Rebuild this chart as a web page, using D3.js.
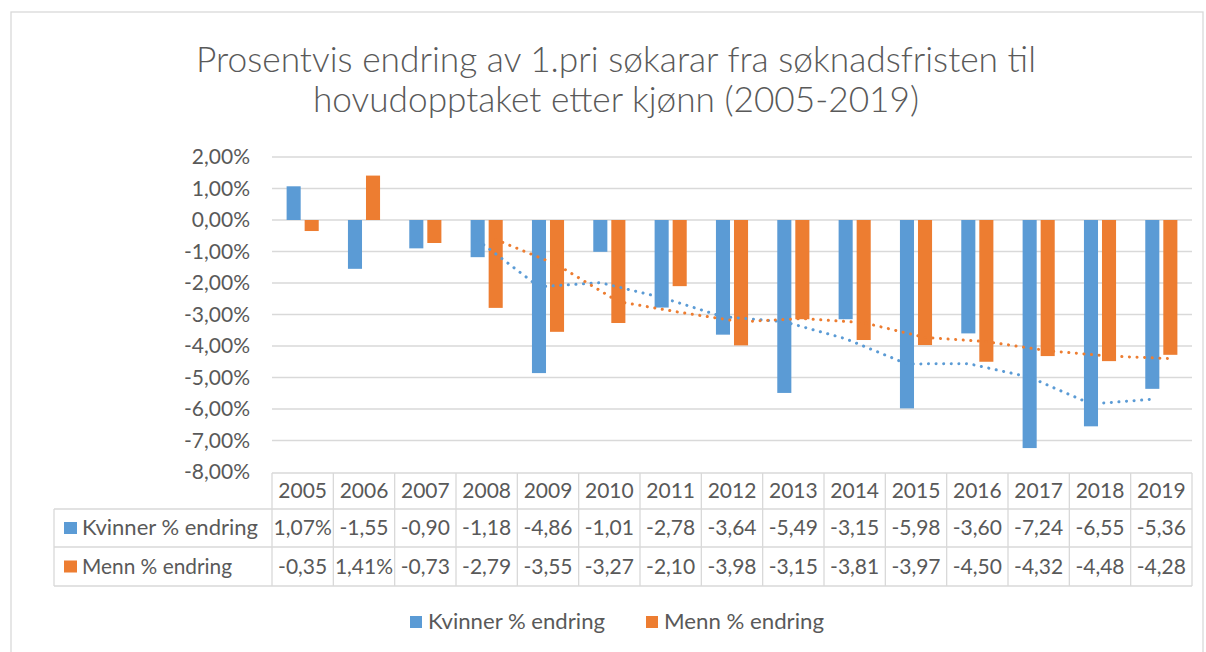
<html lang="no">
<head>
  <meta charset="utf-8">
  <title>Prosentvis endring</title>
  <script src="https://d3js.org/d3.v7.min.js"></script>
  <style>
    body { margin: 0; background: white; }
    text { font-family: Lato, "Open Sans", sans-serif; fill: #595959; }
  </style>
</head>
<body>
<div id="my_dataviz"></div>
<script>

// data
var years = ["2005","2006","2007","2008","2009","2010","2011","2012","2013","2014","2015","2016","2017","2018","2019"];
var kvinner = [1.07,-1.55,-0.90,-1.18,-4.86,-1.01,-2.78,-3.64,-5.49,-3.15,-5.98,-3.60,-7.24,-6.55,-5.36];
var menn = [-0.35,1.41,-0.73,-2.79,-3.55,-3.27,-2.10,-3.98,-3.15,-3.81,-3.97,-4.50,-4.32,-4.48,-4.28];
// dotted trend lines (moving average)
var kvinnerTrend = [null,null,null,-0.64,-2.12,-1.99,-2.46,-3.07,-3.23,-3.77,-4.57,-4.56,-4.99,-5.84,-5.69];
var mennTrend = [null,null,null,-0.62,-1.42,-2.59,-2.93,-3.23,-3.13,-3.26,-3.73,-3.86,-4.15,-4.32,-4.40];
var yTicks = [2,1,0,-1,-2,-3,-4,-5,-6,-7,-8];
var seriesNames = ["Kvinner % endring","Menn % endring"];
var titleLines = ["Prosentvis endring av 1.pri søkarar fra søknadsfristen til",
                  "hovudopptaket etter kjønn (2005-2019)"];

var colors = ["#5B9BD5","#ED7D31"];
var gridColor = "#d9d9d9";

var W = 1206, H = 652;
var plot = {left: 272, right: 1192, top: 157, bottom: 472};

var svg = d3.select("#my_dataviz")
  .append("svg")
    .attr("width", W)
    .attr("height", H);

// chart border
svg.append("rect")
  .attr("x", 11).attr("y", 12)
  .attr("width", 1192).attr("height", 660)
  .attr("fill", "white")
  .attr("stroke", gridColor)
  .attr("stroke-width", 1.3);

// title
svg.selectAll(".title")
  .data(titleLines)
  .enter()
  .append("text")
    .attr("class", "title")
    .attr("x", 616)
    .attr("y", function(d, i) { return 72 + i * 40; })
    .attr("text-anchor", "middle")
    .attr("textLength", function(d, i) { return i == 0 ? 840 : 606; })
    .attr("lengthAdjust", "spacingAndGlyphs")
    .style("font-size", "35px")
    .style("font-weight", 300)
    .text(function(d) { return d; });

// scales
var x = d3.scaleBand()
  .domain(years)
  .range([plot.left, plot.right]);

var xs = d3.scaleBand()
  .domain([0, 1])
  .range([0, x.bandwidth()])
  .paddingInner(0.22)
  .paddingOuter(0.81);

var y = d3.scaleLinear()
  .domain([-8, 2])
  .range([plot.bottom, plot.top]);

var locale = d3.formatLocale({decimal: ",", thousands: " ", grouping: [3], currency: ["", ""], minus: "-"});
var fmt = locale.format(".2f");

// gridlines
svg.append("g")
  .selectAll("line")
  .data(yTicks.filter(function(d) { return d > -8; }))
  .enter()
  .append("line")
    .attr("x1", plot.left)
    .attr("x2", plot.right)
    .attr("y1", function(d) { return y(d); })
    .attr("y2", function(d) { return y(d); })
    .attr("stroke", gridColor)
    .attr("stroke-width", 1.3);

// Y axis labels
var yAxis = svg.append("g")
  .attr("transform", "translate(250,0)")
  .call(d3.axisLeft(y).tickValues(yTicks).tickSize(0).tickPadding(0)
    .tickFormat(function(d) { return fmt(d) + "%"; }));
yAxis.select(".domain").remove();
yAxis.selectAll("text")
  .style("font-size", "21px")
  .style("font-family", "Lato, sans-serif")
  .attr("fill", "#595959");

// bars
var allSeries = [kvinner, menn];
allSeries.forEach(function(vals, s) {
  svg.append("g")
    .selectAll("rect")
    .data(vals)
    .enter()
    .append("rect")
      .attr("x", function(d, i) { return x(years[i]) + xs(s); })
      .attr("width", xs.bandwidth())
      .attr("y", function(d) { return y(Math.max(0, d)); })
      .attr("height", function(d) { return Math.abs(y(d) - y(0)); })
      .attr("fill", colors[s]);
});

// trend lines
var trends = [kvinnerTrend, mennTrend];
trends.forEach(function(vals, s) {
  svg.append("path")
    .datum(vals)
    .attr("d", d3.line()
      .defined(function(d) { return d != null; })
      .x(function(d, i) { return x(years[i]) + xs(s) + xs.bandwidth() / 2; })
      .y(function(d) { return y(d); })
    )
    .attr("fill", "none")
    .attr("stroke", colors[s])
    .attr("stroke-width", 3)
    .attr("stroke-linecap", "round")
    .attr("stroke-dasharray", "0.1 7.5");
});

// data table
var table = {top: 473, r1: 509, r2: 547, bottom: 586, left: 54};
var tg = svg.append("g");

// horizontal lines
tg.append("line").attr("x1", plot.left).attr("x2", plot.right).attr("y1", table.top).attr("y2", table.top);
[table.r1, table.r2, table.bottom].forEach(function(yy) {
  tg.append("line").attr("x1", table.left).attr("x2", plot.right).attr("y1", yy).attr("y2", yy);
});
// vertical lines
tg.append("line").attr("x1", table.left).attr("x2", table.left).attr("y1", table.r1).attr("y2", table.bottom);
tg.selectAll(".vline")
  .data(years.concat(["end"]))
  .enter()
  .append("line")
    .attr("class", "vline")
    .attr("x1", function(d, i) { return plot.left + i * x.step(); })
    .attr("x2", function(d, i) { return plot.left + i * x.step(); })
    .attr("y1", table.top)
    .attr("y2", table.bottom);
tg.selectAll("line").attr("stroke", gridColor).attr("stroke-width", 1.3);

// year header
tg.selectAll(".year")
  .data(years)
  .enter()
  .append("text")
    .attr("x", function(d) { return x(d) + x.bandwidth() / 2; })
    .attr("y", (table.top + table.r1) / 2)
    .attr("dy", "0.35em")
    .attr("text-anchor", "middle")
    .style("font-size", "21px")
    .text(function(d) { return d; });

// value rows
var rowMid = [(table.r1 + table.r2) / 2, (table.r2 + table.bottom) / 2];
var labelLen = [176, 150];
allSeries.forEach(function(vals, s) {
  tg.selectAll(".val" + s)
    .data(vals)
    .enter()
    .append("text")
      .attr("x", function(d, i) { return x(years[i]) + x.bandwidth() / 2; })
      .attr("y", rowMid[s])
      .attr("dy", "0.35em")
      .attr("text-anchor", "middle")
      .style("font-size", "21px")
      // negative values are clipped by the cell in the original, so no % sign
      .text(function(d) { return d > 0 ? fmt(d) + "%" : fmt(d); });

  tg.append("rect")
    .attr("x", 64).attr("y", rowMid[s] - 6)
    .attr("width", 13).attr("height", 12)
    .attr("fill", colors[s]);
  tg.append("text")
    .attr("x", 82)
    .attr("y", rowMid[s])
    .attr("dy", "0.35em")
    .attr("textLength", labelLen[s])
    .attr("lengthAdjust", "spacingAndGlyphs")
    .style("font-size", "21px")
    .text(seriesNames[s]);
});

// legend
var legendX = [410, 646];
var legendLen = [177, 160];
seriesNames.forEach(function(name, s) {
  svg.append("rect")
    .attr("x", legendX[s]).attr("y", 616)
    .attr("width", 12).attr("height", 12)
    .attr("fill", colors[s]);
  svg.append("text")
    .attr("x", legendX[s] + 18)
    .attr("y", 622)
    .attr("dy", "0.35em")
    .attr("textLength", legendLen[s])
    .attr("lengthAdjust", "spacingAndGlyphs")
    .style("font-size", "21px")
    .text(name);
});

</script>
</body>
</html>
